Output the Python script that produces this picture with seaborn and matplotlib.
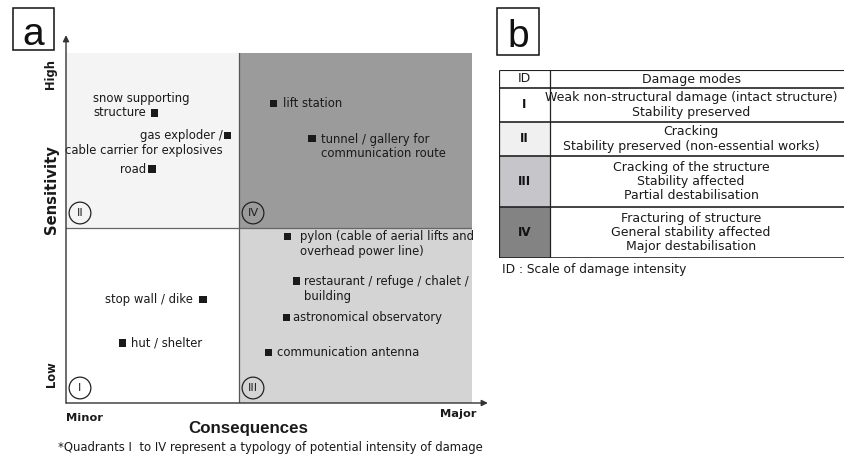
import matplotlib
matplotlib.use('Agg')
import matplotlib.pyplot as plt
import matplotlib.transforms as mtransforms
from matplotlib.patches import Rectangle
import seaborn as sns
import pandas as pd

# panel a: elements on the consequences / sensitivity plane
elements = ['snow supporting\nstructure',
            'gas exploder /\ncable carrier for explosives',
            'road',
            'lift station',
            'tunnel / gallery for\ncommunication route',
            'pylon (cable of aerial lifts and\noverhead power line)',
            'restaurant / refuge / chalet /\nbuilding',
            'astronomical observatory',
            'communication antenna',
            'stop wall / dike',
            'hut / shelter']
consequences = [0.514, 0.936, 0.497, 1.197, 1.422, 1.283, 1.335, 1.272, 1.173, 0.792, 0.329]
sensitivity = [1.657, 1.531, 1.337, 1.714, 1.514, 0.954, 0.697, 0.486, 0.291, 0.589, 0.343]

# panel b: damage modes table
ids = ['I', 'II', 'III', 'IV']
modes = ['Weak non-structural damage (intact structure)\nStability preserved',
         'Cracking\nStability preserved (non-essential works)',
         'Cracking of the structure\nStability affected\nPartial destabilisation',
         'Fracturing of structure\nGeneral stability affected\nMajor destabilisation']

quad_fill = {'I': 'white', 'II': '#f4f4f4', 'III': '#d4d4d4', 'IV': '#9b9b9b'}
id_fill = ['white', '#f0f0f0', '#c6c6ca', '#838383']

# label offsets (pixels) and alignment for each element
label_pos = [(-62, 7.5, 'left'), (-5, -8, 'right'), (-6, 0, 'right'), (10, 0, 'left'),
             (9, -8.5, 'left'), (12, -8, 'left'), (7, -8, 'left'), (7, 0, 'left'),
             (8, 0, 'left'), (-10, 0, 'right'), (8, 0, 'left')]

sns.set_style('white')
plt.rcParams['font.family'] = ['DejaVu Sans']
ink = '#1a1a1a'

W, H = 844, 457
fig = plt.figure(figsize=(W / 100, H / 100), dpi=100)

def fbox(x0, y0, x1, y1):
    # pixel box (top-left origin) -> figure fraction rect
    return [x0 / W, 1 - y1 / H, (x1 - x0) / W, (y1 - y0) / H]

# ---------------- panel a ----------------
ax = fig.add_axes(fbox(66, 53, 472, 403))
xmax = 406 / 173
ax.set_xlim(0, xmax)
ax.set_ylim(0, 2)
for s in ax.spines.values():
    s.set_visible(False)
ax.set_xticks([])
ax.set_yticks([])

ax.add_patch(Rectangle((0, 0), 1, 1, fc=quad_fill['I'], ec='none', zorder=0))
ax.add_patch(Rectangle((0, 1), 1, 1, fc=quad_fill['II'], ec='none', zorder=0))
ax.add_patch(Rectangle((1, 0), xmax - 1, 1, fc=quad_fill['III'], ec='none', zorder=0))
ax.add_patch(Rectangle((1, 1), xmax - 1, 1, fc=quad_fill['IV'], ec='none', zorder=0))
ax.axvline(1, color='#555555', lw=0.9, zorder=1)
ax.axhline(1, color='#666666', lw=0.9, zorder=1)

df = pd.DataFrame({'element': elements, 'consequences': consequences, 'sensitivity': sensitivity})
sns.scatterplot(data=df, x='consequences', y='sensitivity', marker='s', s=26,
                color=ink, edgecolor='none', ax=ax, zorder=3, legend=False)
ax.set_xlabel('')
ax.set_ylabel('')

for name, cx, cy, (dx, dy, ha) in zip(elements, consequences, sensitivity, label_pos):
    ax.annotate(name, (cx, cy), xytext=(dx, dy), textcoords='offset pixels',
                ha=ha, va='center', fontsize=8.4, color=ink,
                linespacing=1.12, multialignment=ha)

# quadrant numerals in circles
circ_tr = mtransforms.offset_copy(ax.transData, fig=fig, x=14, y=15, units='dots')
corners = {'I': (0, 0), 'II': (0, 1), 'III': (1, 0), 'IV': (1, 1)}
for q, (qx, qy) in corners.items():
    ax.scatter([qx], [qy], s=245, facecolors='none', edgecolors='#222222',
               linewidths=0.9, transform=circ_tr, zorder=4, clip_on=False)
    ax.text(qx, qy, q, transform=circ_tr, ha='center', va='center',
            fontsize=8.2, color='#222222', zorder=5)

# axis arrows
arrow = dict(arrowstyle='-|>', color='#333333', lw=1.0, mutation_scale=9, shrinkA=0, shrinkB=0)
ax.annotate('', xy=(0, 1.051), xytext=(0, 0), xycoords='axes fraction', arrowprops=arrow)
ax.annotate('', xy=(1.039, 0), xytext=(0, 0), xycoords='axes fraction', arrowprops=arrow)

fig.text(52 / W, 1 - 190 / H, 'Sensitivity', rotation=90, ha='center', va='center',
         fontsize=10.6, fontweight='bold', color=ink)
fig.text(51 / W, 1 - 74 / H, 'High', rotation=90, ha='center', va='center',
         fontsize=8.3, fontweight='bold', color=ink)
fig.text(51 / W, 1 - 374 / H, 'Low', rotation=90, ha='center', va='center',
         fontsize=8.3, fontweight='bold', color=ink)
fig.text(66 / W, 1 - 418 / H, 'Minor', ha='left', va='center',
         fontsize=8.2, fontweight='bold', color=ink)
fig.text(476 / W, 1 - 414 / H, 'Major', ha='right', va='center',
         fontsize=8.2, fontweight='bold', color=ink)
fig.text(248 / W, 1 - 428 / H, 'Consequences', ha='center', va='center',
         fontsize=12.2, fontweight='bold', color=ink, family='Liberation Sans')
fig.text(270 / W, 1 - 448 / H,
         '*Quadrants I  to IV represent a typology of potential intensity of damage',
         ha='center', va='center', fontsize=8.4, color=ink)

# panel letters
for letter, (x0, y0, x1, y1), base in [('a', (13, 8, 54, 50), 45), ('b', (497, 8, 539, 55), 47)]:
    fig.add_artist(Rectangle((x0 / W, 1 - y1 / H), (x1 - x0) / W, (y1 - y0) / H,
                             transform=fig.transFigure, fill=False, ec='#111111', lw=1.1))
    fig.text((x0 + x1) / 2 / W, 1 - base / H, letter, ha='center', va='baseline',
             fontsize=28, color='#111111', family='Liberation Sans')

# ---------------- panel b ----------------
row_h = [18] + [17 * m.count('\n') + 17 for m in modes]
total = sum(row_h)
tab = fig.add_axes(fbox(499, 70, W, 70 + total))
tab.set_xlim(0, W - 499)
tab.set_ylim(total, 0)
tab.axis('off')
id_w = 51
text_cx = 192

tab.hlines(0, 0, W, color='#222222', lw=0.8)
tab.text(id_w / 2, row_h[0] / 2, 'ID', ha='center', va='center', fontsize=9.0, color=ink)
tab.text(text_cx, row_h[0] / 2, 'Damage modes', ha='center', va='center', fontsize=9.0, color=ink)
y = row_h[0]
for i, (rid, mode) in enumerate(zip(ids, modes)):
    h = row_h[i + 1]
    tab.add_patch(Rectangle((0, y), id_w, h, fc=id_fill[i], ec='none', zorder=0))
    tab.hlines(y, 0, W, color='#222222', lw=1.2)
    tab.text(id_w / 2, y + h / 2, rid, ha='center', va='center', fontsize=8.6,
             fontweight='bold', color='#111111')
    tab.text(text_cx, y + h / 2, mode, ha='center', va='center', fontsize=9.0,
             linespacing=1.14, color=ink)
    y += h
tab.hlines(y, 0, W, color='#222222', lw=1.2)
tab.vlines([0, id_w], 0, total, color='#222222', lw=0.9)

fig.text(502 / W, 1 - 270 / H, 'ID : Scale of damage intensity', ha='left', va='center',
         fontsize=8.8, color=ink)

fig.savefig('out.png', dpi=100)
